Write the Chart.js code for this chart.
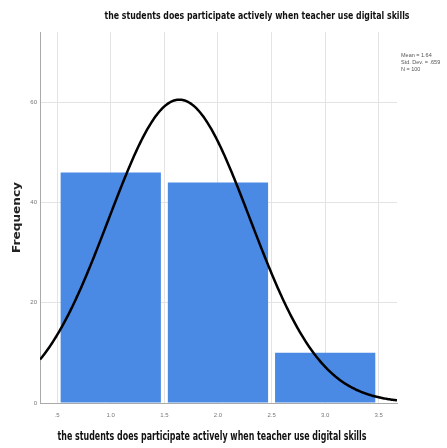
<!DOCTYPE html>
<html>
<head>
<meta charset="utf-8">
<script src="https://cdn.jsdelivr.net/npm/chart.js@4"></script>
<style>
  html, body { margin: 0; padding: 0; background: #fff; }
  #wrap { width: 447px; height: 448px; }
</style>
</head>
<body>
<div id="wrap"><canvas id="c"></canvas></div>
<script>
// Histogram bins (response codes) and their counts
const binCenters = [1, 2, 3];
const frequencies = [46, 44, 10];

// Axis ticks
const xTickValues = [0.5, 1.0, 1.5, 2.0, 2.5, 3.0, 3.5];
const yTickValues = [0, 20, 40, 60];

const variableLabel = 'the students does participate actively when teacher use digital skills';
const yLabel = 'Frequency';

// Axis extents
const xMin = 0.34, xMax = 3.67;
const yMax = 74;
const binWidth = 1;

// Summary statistics of the binned responses
const n = frequencies.reduce((a, b) => a + b, 0);
const mean = binCenters.reduce((s, c, i) => s + c * frequencies[i], 0) / n;
const sd = Math.sqrt(binCenters.reduce((s, c, i) => s + frequencies[i] * (c - mean) ** 2, 0) / (n - 1));

// Fitted normal curve scaled to counts per bin
const normalCurve = [];
for (let x = xMin; x <= xMax + 1e-9; x += 0.01) {
  const z = (x - mean) / sd;
  normalCurve.push({ x: x, y: n * binWidth * Math.exp(-0.5 * z * z) / (sd * Math.sqrt(2 * Math.PI)) });
}

const spssNum = (v, d) => v.toFixed(d).replace(/^0\./, '.');

function drawFitted(ctx, text, font, cx, cy, width, color, rotate) {
  ctx.save();
  ctx.font = font;
  ctx.fillStyle = color;
  ctx.textAlign = 'center';
  ctx.textBaseline = 'middle';
  const w = ctx.measureText(text).width;
  ctx.translate(cx, cy);
  if (rotate) ctx.rotate(-Math.PI / 2);
  ctx.scale(width / w, 1);
  ctx.fillText(text, 0, 0);
  ctx.restore();
}

const labelsPlugin = {
  id: 'labels',
  afterDraw(chart) {
    const ctx = chart.ctx;
    const a = chart.chartArea;
    // chart title
    drawFitted(ctx, variableLabel, 'bold 10px "DejaVu Sans"', 257, 16, 305, '#111', false);
    // x axis title
    drawFitted(ctx, variableLabel, 'bold 12px "DejaVu Sans"', 212, 437, 309, '#111', false);
    // y axis title
    drawFitted(ctx, yLabel, 'bold 10px "DejaVu Sans"', 17, (a.top + a.bottom) / 2, 71, '#222', true);
    // statistics box
    ctx.save();
    ctx.font = '5.5px "Liberation Sans"';
    ctx.fillStyle = '#555';
    ctx.textAlign = 'left';
    ctx.textBaseline = 'middle';
    const sx = a.right + 4;
    ctx.fillText('Mean = ' + mean.toFixed(2), sx, 55);
    ctx.fillText('Std. Dev. = ' + spssNum(sd, 3), sx, 62);
    ctx.fillText('N = ' + n, sx, 69.5);
    ctx.restore();
  }
};

new Chart(document.getElementById('c'), {
  data: {
    datasets: [
      {
        type: 'line',
        data: normalCurve,
        xAxisID: 'x',
        yAxisID: 'y',
        borderColor: '#000',
        borderWidth: 2.5,
        pointRadius: 0,
        tension: 0,
        fill: false,
        order: 0
      },
      {
        type: 'bar',
        data: binCenters.map((c, i) => ({ x: c, y: frequencies[i] })),
        xAxisID: 'xBin',
        yAxisID: 'y',
        backgroundColor: '#4a89e4',
        borderWidth: 0,
        grouped: false,
        barPercentage: 0.935,
        categoryPercentage: 1,
        order: 1
      }
    ]
  },
  options: {
    responsive: true,
    maintainAspectRatio: false,
    animation: false,
    layout: { padding: { top: 32, left: 4, right: 50, bottom: 0 } },
    plugins: { legend: { display: false }, tooltip: { enabled: false }, title: { display: false } },
    scales: {
      x: {
        type: 'linear',
        position: 'bottom',
        offset: false,
        min: xMin,
        max: xMax,
        afterBuildTicks: axis => { axis.ticks = xTickValues.map(v => ({ value: v })); },
        afterFit: axis => { axis.height = 45; },
        ticks: {
          autoSkip: false,
          maxRotation: 0,
          padding: 9,
          color: '#777',
          font: { size: 6, family: 'Liberation Sans' },
          callback: v => spssNum(v, 1)
        },
        grid: { color: '#e3e3e3', lineWidth: 1, drawTicks: false, offset: false },
        border: { display: true, color: '#aaa', width: 1 }
      },
      // bin axis shares the pixel range of x; only its ticks (one per bin) differ
      xBin: {
        type: 'linear',
        position: 'bottom',
        offset: false,
        min: xMin,
        max: xMax,
        afterBuildTicks: axis => { axis.ticks = binCenters.map(v => ({ value: v })); },
        afterFit: axis => { axis.height = 0; },
        ticks: { display: false },
        grid: { display: false, drawTicks: false, offset: false },
        border: { display: false }
      },
      y: {
        type: 'linear',
        min: 0,
        max: yMax,
        afterBuildTicks: axis => { axis.ticks = yTickValues.map(v => ({ value: v })); },
        afterFit: axis => { axis.width = 36; },
        ticks: {
          padding: 3,
          color: '#777',
          font: { size: 6, family: 'Liberation Sans' }
        },
        grid: { color: '#e3e3e3', lineWidth: 1, drawTicks: false },
        border: { display: true, color: '#aaa', width: 1 }
      }
    }
  },
  plugins: [labelsPlugin]
});
</script>
</body>
</html>
